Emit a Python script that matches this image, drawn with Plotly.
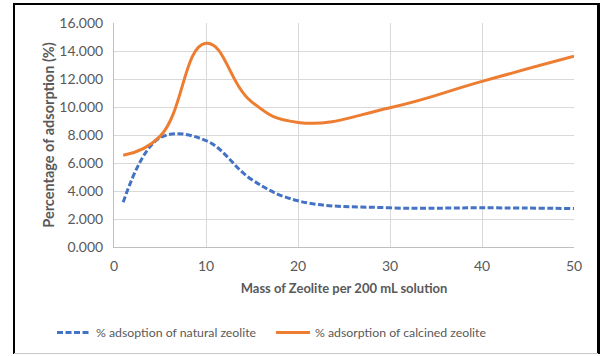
import plotly.graph_objects as go

mass = [1, 5, 10, 15, 20, 30, 40, 50]
natural = [3.2, 7.8, 7.6, 4.8, 3.3, 2.8, 2.8, 2.75]
calcined = [6.55, 7.9, 14.55, 10.35, 8.9, 9.95, 11.83, 13.62]

y_ticks = [0, 2, 4, 6, 8, 10, 12, 14, 16]
y_tick_labels = ["%.3f" % v for v in y_ticks]
x_ticks = [0, 10, 20, 30, 40, 50]

FONT = "Lato, 'Open Sans', sans-serif"
GRAY = "#595959"

fig = go.Figure()
fig.add_trace(go.Scatter(
    x=mass, y=natural, mode="lines", name="% adsoption of natural zeolite",
    line=dict(color="#4472C4", width=3, dash="6px,2.5px", shape="spline", smoothing=1.1),
))
fig.add_trace(go.Scatter(
    x=mass, y=calcined, mode="lines", name="% adsorption of calcined zeolite",
    line=dict(color="#ED7D31", width=3, shape="spline", smoothing=1.3),
))

L, R, T, B = 114, 27, 23, 109
W, H = 601, 356
pw = W - L - R
ph = H - T - B

def px_x(p):
    return (p - L) / pw

def px_y(p):
    return (H - B - p) / ph

shapes = [
    dict(type="line", xref="paper", yref="paper", x0=px_x(14), x1=px_x(14), y0=px_y(3), y1=px_y(354),
         line=dict(color="black", width=2)),
    dict(type="line", xref="paper", yref="paper", x0=px_x(13), x1=px_x(599), y0=px_y(4), y1=px_y(4),
         line=dict(color="black", width=2)),
    dict(type="line", xref="paper", yref="paper", x0=px_x(598.5), x1=px_x(598.5), y0=px_y(3), y1=px_y(354),
         line=dict(color="black", width=3)),
    dict(type="line", xref="paper", yref="paper", x0=px_x(14), x1=px_x(598), y0=px_y(353.5), y1=px_y(353.5),
         line=dict(color="#c8c8c8", width=1)),
]

fig.update_layout(
    width=W, height=H,
    margin=dict(l=L, r=R, t=T, b=B, autoexpand=False),
    paper_bgcolor="white", plot_bgcolor="white",
    font=dict(family=FONT, size=12, color=GRAY),
    showlegend=True,
    legend=dict(orientation="h", xref="container", yref="container",
                x=52 / W, xanchor="left", y=(H - 318) / H, yanchor="top",
                font=dict(family=FONT, size=12.3, color=GRAY), itemwidth=34,
                entrywidth=170, entrywidthmode="pixels",
                traceorder="normal"),
    shapes=shapes,
    xaxis=dict(range=[0, 50], tickvals=x_ticks, ticktext=[str(v) for v in x_ticks],
               showgrid=True, gridcolor="#d9d9d9", gridwidth=1,
               showline=True, linecolor="#bfbfbf", linewidth=1, zeroline=False,
               ticks="", ticklen=0, ticklabelstandoff=6,
               title=dict(text="<b>Mass of Zeolite per 200 mL solution</b>", standoff=11,
                          font=dict(family=FONT, size=13, color=GRAY)),
               tickfont=dict(family=FONT, size=14, color=GRAY)),
    yaxis=dict(range=[0, 16], tickvals=y_ticks, ticktext=y_tick_labels,
               showgrid=True, gridcolor="#d9d9d9", gridwidth=1,
               showline=True, linecolor="#bfbfbf", linewidth=1, zeroline=False,
               ticks="", ticklen=0, ticklabelstandoff=7,
               title=dict(text="<b>Percentage of adsorption (%)</b>", standoff=1,
                          font=dict(family=FONT, size=14.5, color=GRAY)),
               tickfont=dict(family=FONT, size=14, color=GRAY)),
)

fig.write_html("out.html")
